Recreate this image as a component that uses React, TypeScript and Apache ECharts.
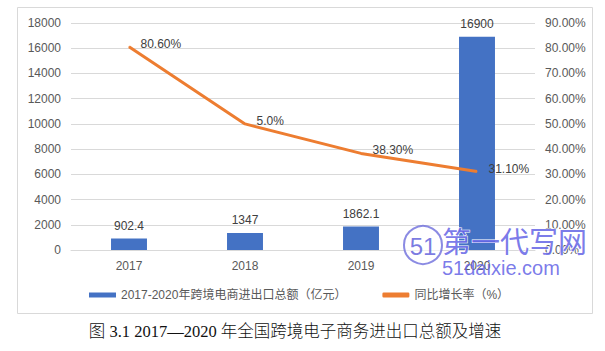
import React, { useEffect, useRef } from "react";
import * as echarts from "echarts";

const categories = ["2017", "2018", "2019", "2020"];
const totals = [902.4, 1347, 1862.1, 16900];
const growth = [80.6, 50, 38.3, 31.1];
const growthLabels = ["80.60%", "5.0%", "38.30%", "31.10%"];
const barName = "2017-2020年跨境电商进出口总额（亿元）";
const lineName = "同比增长率（%）";
const caption = "图 3.1 2017—2020 年全国跨境电子商务进出口总额及增速";

export default function App() {
  const ref = useRef<HTMLDivElement>(null);
  useEffect(() => {
    const chart = echarts.init(ref.current!, null, { renderer: "svg" });
    const font = "'Liberation Sans', 'Noto Sans CJK SC', sans-serif";
    chart.setOption({
      animation: false,
      textStyle: { fontFamily: font },
      grid: { left: 71, right: 70, top: 23, bottom: 101 },
      legend: {
        left: 84,
        top: 284,
        itemWidth: 27,
        itemHeight: 5,
        itemGap: 36,
        textStyle: { color: "#595959", fontSize: 12, fontFamily: font },
        data: [
          { name: barName, icon: "rect" },
          { name: lineName, icon: "roundRect" },
        ],
      },
      xAxis: {
        type: "category",
        data: categories,
        axisLine: { lineStyle: { color: "#d9d9d9", width: 1 } },
        axisTick: { show: false },
        axisLabel: { color: "#595959", fontSize: 12, margin: 10 },
      },
      yAxis: [
        {
          type: "value",
          min: 0,
          max: 18000,
          interval: 2000,
          axisLine: { show: false },
          axisTick: { show: false },
          axisLabel: {
            color: "#595959",
            fontSize: 12,
            margin: 10,
            formatter: (v: number) => String(v),
          },
          splitLine: { lineStyle: { color: "#d9d9d9", width: 1 } },
        },
        {
          type: "value",
          min: 0,
          max: 90,
          interval: 10,
          axisLine: { show: false },
          axisTick: { show: false },
          axisLabel: {
            color: "#595959",
            fontSize: 12,
            margin: 10,
            formatter: (v: number) => v.toFixed(2) + "%",
          },
          splitLine: { show: false },
        },
      ],
      series: [
        {
          name: barName,
          type: "bar",
          data: totals,
          barWidth: "31%",
          itemStyle: { color: "#4472C4" },
          label: {
            show: true,
            position: "top",
            distance: 7,
            color: "#404040",
            fontSize: 12,
          },
        },
        {
          name: lineName,
          type: "line",
          yAxisIndex: 1,
          data: growth,
          symbol: "circle",
          symbolSize: 1,
          showSymbol: true,
          lineStyle: { color: "#ED7D31", width: 3 },
          itemStyle: { color: "#ED7D31" },
          label: {
            show: true,
            position: "right",
            distance: 11,
            offset: [0, -3],
            color: "#404040",
            fontSize: 12,
            formatter: (p: any) => growthLabels[p.dataIndex],
          },
        },
      ],
      graphic: [
        {
          type: "rect",
          shape: { x: 17.5, y: 7.5, width: 575, height: 306 },
          style: { fill: "none", stroke: "#d9d9d9", lineWidth: 1 },
          silent: true,
        },
        {
          type: "text",
          x: 295,
          y: 331,
          style: {
            text: caption,
            fill: "#111",
            fontSize: 16.5,
            fontWeight: 300,
            fontFamily: "'Liberation Serif', 'Noto Sans CJK SC', serif",
            align: "center",
            verticalAlign: "middle",
          },
        },
        {
          type: "circle",
          shape: { cx: 423, cy: 245, r: 19 },
          style: { fill: "rgba(255,255,255,0.6)", stroke: "rgba(110,110,220,0.8)", lineWidth: 2 },
          z: 100,
        },
        {
          type: "text",
          x: 423,
          y: 246,
          style: {
            text: "51",
            fill: "rgba(100,100,220,0.85)",
            fontSize: 24,
            fontFamily: font,
            align: "center",
            verticalAlign: "middle",
          },
          z: 101,
        },
        {
          type: "text",
          x: 442,
          y: 240,
          style: {
            text: "第一代写网",
            fill: "rgba(100,100,230,0.85)",
            stroke: "#fff",
            lineWidth: 1,
            fontSize: 29,
            fontFamily: "'Noto Sans CJK SC', sans-serif",
            verticalAlign: "middle",
          },
          z: 101,
        },
        {
          type: "text",
          x: 442,
          y: 268,
          style: {
            text: "51daixie.com",
            fill: "rgba(100,100,230,0.85)",
            fontSize: 20,
            fontFamily: font,
            verticalAlign: "middle",
          },
          z: 101,
        },
      ],
    });
    return () => chart.dispose();
  }, []);
  return (
    <div
      ref={ref}
      style={{ position: "fixed", left: 0, top: 0, width: 605, height: 351, background: "#fff" }}
    />
  );
}
